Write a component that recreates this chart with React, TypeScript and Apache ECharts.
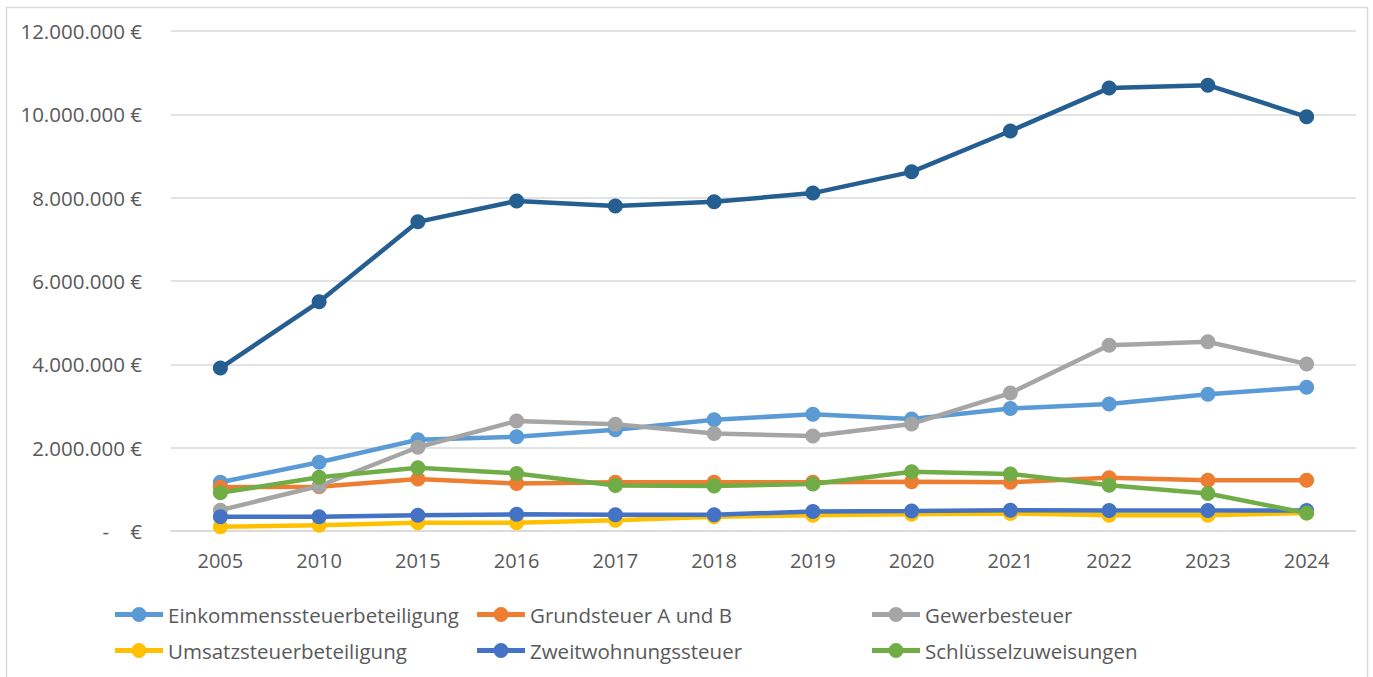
import React, { useEffect, useRef } from "react";
import * as echarts from "echarts";

const years = ["2005", "2010", "2015", "2016", "2017", "2018", "2019", "2020", "2021", "2022", "2023", "2024"];

const gesamt = [3910000, 5500000, 7420000, 7920000, 7800000, 7900000, 8110000, 8620000, 9600000, 10630000, 10700000, 9940000];
const einkommen = [1170000, 1650000, 2190000, 2260000, 2430000, 2670000, 2800000, 2690000, 2940000, 3050000, 3280000, 3450000];
const grundsteuer = [1050000, 1060000, 1250000, 1140000, 1170000, 1170000, 1170000, 1180000, 1170000, 1280000, 1220000, 1220000];
const gewerbe = [500000, 1080000, 2010000, 2640000, 2560000, 2340000, 2280000, 2570000, 3310000, 4460000, 4540000, 4010000];
const umsatz = [100000, 140000, 200000, 200000, 260000, 340000, 380000, 400000, 420000, 380000, 380000, 430000];
const zweitwohnung = [340000, 340000, 380000, 400000, 390000, 390000, 470000, 480000, 500000, 490000, 490000, 490000];
const schluessel = [920000, 1290000, 1520000, 1380000, 1090000, 1080000, 1130000, 1420000, 1370000, 1100000, 900000, 430000];

const seriesDefs = [
  { name: "Gesamt", data: gesamt, color: "#255E91" },
  { name: "Einkommenssteuerbeteiligung", data: einkommen, color: "#5B9BD5" },
  { name: "Grundsteuer A und B", data: grundsteuer, color: "#ED7D31" },
  { name: "Gewerbesteuer", data: gewerbe, color: "#A5A5A5" },
  { name: "Umsatzsteuerbeteiligung", data: umsatz, color: "#FFC000" },
  { name: "Zweitwohnungssteuer", data: zweitwohnung, color: "#4472C4" },
  { name: "Schlüsselzuweisungen", data: schluessel, color: "#70AD47" },
];

const legendNames = [
  "Einkommenssteuerbeteiligung",
  "Grundsteuer A und B",
  "Gewerbesteuer",
  "Umsatzsteuerbeteiligung",
  "Zweitwohnungssteuer",
  "Schlüsselzuweisungen",
];

const FONT = "'Open Sans', sans-serif";
const LEGEND_ICON =
  "path://M0,5 L48,5 L48,10 L0,10 Z M24,0 A7.5,7.5 0 0 1 24,15 A7.5,7.5 0 0 1 24,0 Z";

function fmt(v: number): string {
  if (v === 0) return "-    €";
  return v.toString().replace(/\B(?=(\d{3})+(?!\d))/g, ".") + " €";
}

export default function App() {
  const ref = useRef<HTMLDivElement>(null);
  useEffect(() => {
    if (!ref.current) return;
    const chart = echarts.init(ref.current, null, { renderer: "svg" });
    const legendPos = [
      [115, 604],
      [477, 604],
      [872, 604],
      [115, 640],
      [477, 640],
      [872, 640],
    ];
    chart.setOption({
      animation: false,
      backgroundColor: "#ffffff",
      textStyle: { fontFamily: FONT },
      graphic: [
        {
          type: "rect",
          shape: { x: 6.5, y: 7.5, width: 1361, height: 720 },
          style: { fill: "none", stroke: "#d9d9d9", lineWidth: 1.5 },
          silent: true,
        },
      ],
      legend: legendNames.map((n, i) => ({
        data: [n],
        left: legendPos[i][0],
        top: legendPos[i][1],
        padding: 0,
        itemWidth: 48,
        itemHeight: 15,
        itemGap: 0,
        icon: LEGEND_ICON,
        textStyle: { fontSize: 20.5, color: "#595959", fontFamily: FONT },
        selectedMode: false,
      })),
      grid: { left: 171, right: 17, top: 31, bottom: 146, containLabel: false },
      xAxis: {
        type: "category",
        data: years,
        boundaryGap: true,
        axisLine: { show: true, lineStyle: { color: "#d9d9d9", width: 1.5 } },
        axisTick: { show: false },
        axisLabel: { color: "#595959", fontSize: 20, margin: 19, fontFamily: FONT },
      },
      yAxis: {
        type: "value",
        min: 0,
        max: 12000000,
        interval: 2000000,
        axisLine: { show: false },
        axisTick: { show: false },
        splitLine: { lineStyle: { color: "#d9d9d9", width: 1.5 } },
        axisLabel: { color: "#595959", fontSize: 20.5, margin: 29, fontFamily: FONT, formatter: fmt },
      },
      series: seriesDefs.map((s) => ({
        name: s.name,
        type: "line",
        data: s.data,
        symbol: "circle",
        symbolSize: 15,
        lineStyle: { width: 4.5, color: s.color },
        itemStyle: { color: s.color },
        z: s.name === "Gesamt" ? 3 : 2,
      })),
    });
    return () => chart.dispose();
  }, []);
  return (
    <div
      ref={ref}
      style={{ position: "absolute", left: 0, top: 0, width: 1373, height: 677 }}
    />
  );
}
